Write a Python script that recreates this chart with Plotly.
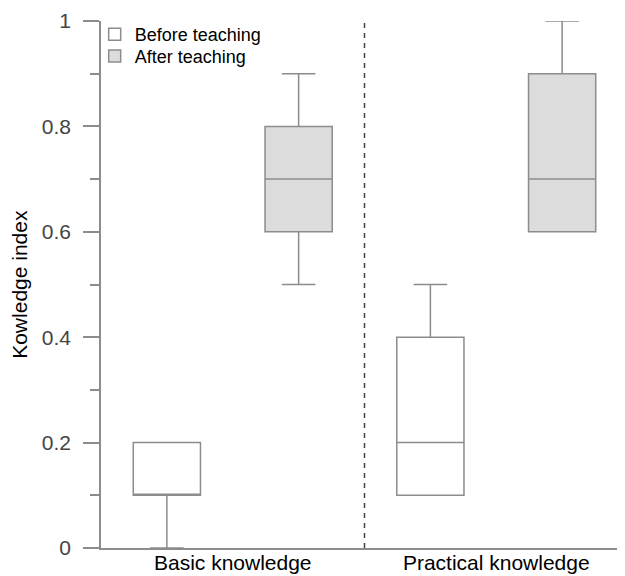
import plotly.graph_objects as go

categories = ["Basic knowledge", "Practical knowledge"]

before_lower = [0.0, 0.1]
before_q1 = [0.1, 0.1]
before_median = [0.1, 0.2]
before_q3 = [0.2, 0.4]
before_upper = [0.2, 0.5]

after_lower = [0.5, 0.6]
after_q1 = [0.6, 0.6]
after_median = [0.7, 0.7]
after_q3 = [0.8, 0.9]
after_upper = [0.9, 1.0]

y_ticks = [0, 0.2, 0.4, 0.6, 0.8, 1]
y_ticklabels = ["0", "0.2", "0.4", "0.6", "0.8", "1"]

LINE = "#8c8c8c"
FONT = "Liberation Sans, Arial, sans-serif"

fig = go.Figure()
fig.add_trace(go.Box(
    name="Before teaching", x=categories,
    lowerfence=before_lower, q1=before_q1, median=before_median,
    q3=before_q3, upperfence=before_upper,
    fillcolor="white", line=dict(color=LINE, width=1.5),
    whiskerwidth=0.5, boxpoints=False, legend="legend",
))
fig.add_trace(go.Box(
    name="After teaching", x=categories,
    lowerfence=after_lower, q1=after_q1, median=after_median,
    q3=after_q3, upperfence=after_upper,
    fillcolor="#dcdcdc", line=dict(color=LINE, width=1.5),
    whiskerwidth=0.5, boxpoints=False, legend="legend2",
))

fig.add_shape(type="line", xref="x", yref="y", x0=0.5, x1=0.5, y0=0, y1=1,
              line=dict(color="#444444", width=1.5, dash="5px,5px"))

fig.add_annotation(text="Kowledge index", xref="paper", yref="paper",
                   x=-0.155, y=0.5, textangle=-90, showarrow=False,
                   font=dict(family=FONT, size=21, color="black"),
                   xanchor="center", yanchor="middle")

legend_common = dict(xanchor="left", yanchor="top", bgcolor="rgba(0,0,0,0)",
                     font=dict(family=FONT, size=18, color="black"),
                     itemwidth=30, tracegroupgap=0)

fig.update_layout(
    width=620, height=568,
    margin=dict(l=93, r=0, t=13, b=28),
    paper_bgcolor="white", plot_bgcolor="white",
    boxmode="group", boxgap=0, boxgroupgap=0.49,
    font=dict(family=FONT, size=21, color="black"),
    showlegend=True,
    legend=dict(x=-0.012, y=1.0095, **legend_common),
    legend2=dict(x=-0.012, y=0.968, **legend_common),
    xaxis=dict(range=[-0.5, 1.5], showline=True, linecolor=LINE, linewidth=1.5,
               ticks="", showgrid=False, zeroline=False, automargin=False,
               ticklabelstandoff=-5,
               tickfont=dict(family=FONT, size=21, color="black")),
    yaxis=dict(range=[0, 1], showline=True, linecolor=LINE, linewidth=1.5,
               tickvals=y_ticks, ticktext=y_ticklabels,
               ticks="outside", ticklen=16, tickwidth=1.5, tickcolor=LINE,
               minor=dict(dtick=0.1, ticks="outside", ticklen=9, tickwidth=1.5, tickcolor=LINE, showgrid=False),
               showgrid=False, zeroline=False, automargin=False,
               ticklabelstandoff=8,
               tickfont=dict(family=FONT, size=21, color="#444444")),
)

fig.write_html("out.html")
